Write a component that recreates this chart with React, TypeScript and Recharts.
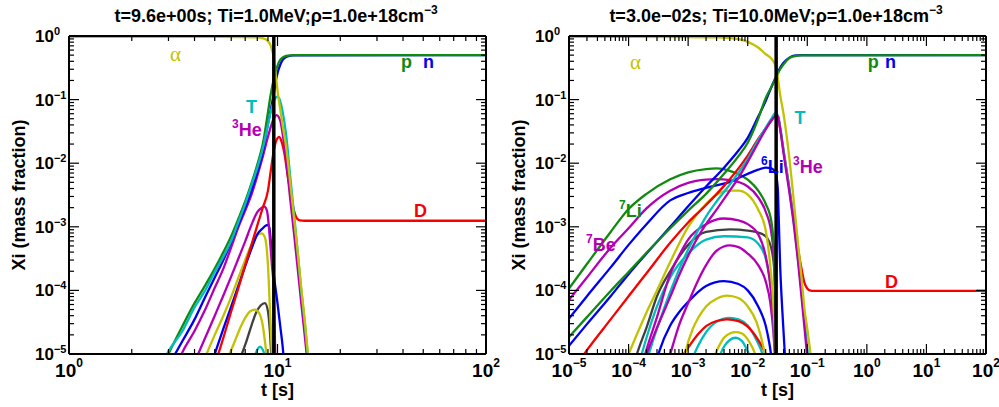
import React from "react";
import { LineChart, Line, XAxis, YAxis, ReferenceLine, ReferenceDot } from "recharts";

type Pt = [number, number];

const SANS = "'Liberation Sans', Arial, Helvetica, sans-serif";
const SERIF = "'Liberation Serif', 'DejaVu Serif', serif";

const YEL = "#c2c200";
const GRN = "#108a10";
const BLU = "#0000f0";
const RED = "#f80000";
const MAG = "#b400b4";
const CYN = "#00bcbc";
const GRY = "#404040";

// axis ticks
const MINOR_STEPS = [2, 3, 4, 5, 6, 7, 8, 9];
const Y_DECADES = [1e-5, 1e-4, 1e-3, 1e-2, 1e-1, 1];
const X_DECADES_A = [1, 10, 100];
const X_DECADES_B = [1e-5, 1e-4, 1e-3, 1e-2, 1e-1, 1, 10, 100];

// ---- left panel: t = 9.6 s, Ti = 1 MeV ----
const L_ALPHA: Pt[] = [[1, 0.97], [5, 0.97], [7, 0.965], [8, 0.95], [8.5, 0.92], [9, 0.83], [9.3, 0.69], [9.6, 0.45], [9.8, 0.25], [10, 0.14], [10.3, 0.071], [10.6, 0.038], [11, 0.018], [11.5, 5.0e-3], [12, 1.4e-3], [12.5, 4.0e-4], [13, 1.1e-4], [13.5, 3.5e-5], [14, 1.0e-5], [14.5, 3.2e-6]];
const L_P: Pt[] = [[2.9, 7.9e-6], [3, 1.0e-5], [3.5, 2.75e-5], [4, 6.3e-5], [4.5, 1.2e-4], [5, 2.2e-4], [5.5, 4.0e-4], [6, 7.2e-4], [6.5, 1.35e-3], [7, 2.5e-3], [7.5, 4.8e-3], [8, 9.5e-3], [8.5, 0.02], [9, 0.063], [9.3, 0.126], [9.6, 0.21], [9.8, 0.275], [10, 0.34], [10.3, 0.42], [10.6, 0.46], [11, 0.485], [12, 0.499], [100, 0.5]];
const L_N: Pt[] = [[3.2, 9.5e-6], [3.5, 1.6e-5], [4, 3.5e-5], [4.5, 7.9e-5], [5, 1.6e-4], [5.5, 3.0e-4], [6, 5.8e-4], [6.5, 1.1e-3], [7, 2.0e-3], [7.5, 3.7e-3], [8, 7.2e-3], [8.5, 0.015], [9, 0.042], [9.3, 0.071], [9.6, 0.126], [9.8, 0.19], [10, 0.26], [10.3, 0.35], [10.6, 0.42], [11, 0.47], [12, 0.497], [100, 0.5]];
const L_T: Pt[] = [[2.9, 8.9e-6], [3, 1.1e-5], [3.5, 2.3e-5], [4, 5.4e-5], [4.5, 1.0e-4], [5, 1.95e-4], [5.5, 3.4e-4], [6, 6.0e-4], [6.5, 1.2e-3], [7, 2.3e-3], [7.5, 4.5e-3], [8, 8.5e-3], [8.5, 0.017], [9, 0.04], [9.3, 0.066], [9.6, 0.093], [9.8, 0.107], [10, 0.111], [10.3, 0.095], [10.6, 0.063], [11, 0.028], [11.5, 6.3e-3], [12, 1.6e-3], [12.5, 4.0e-4], [13, 1.0e-4], [13.5, 3.2e-5], [14, 8.9e-6]];
const L_HE3: Pt[] = [[3.4, 8.7e-6], [3.5, 1.07e-5], [4, 2.3e-5], [4.5, 5.0e-5], [5, 1.1e-4], [5.5, 2.2e-4], [6, 4.8e-4], [6.5, 1.0e-3], [7, 1.8e-3], [7.5, 3.2e-3], [8, 6.3e-3], [8.5, 0.0126], [9, 0.026], [9.3, 0.038], [9.6, 0.051], [9.9, 0.057], [10.3, 0.047], [10.6, 0.028], [11, 0.011], [11.5, 2.8e-3], [12, 7.9e-4], [12.5, 2.2e-4], [13, 6.3e-5], [13.5, 2.0e-5], [14, 6.3e-6]];
const L_D: Pt[] = [[5.1, 8.1e-6], [5.5, 1.8e-5], [6, 4.7e-5], [6.5, 1.1e-4], [7, 2.5e-4], [7.5, 5.2e-4], [8, 1.05e-3], [8.5, 2.0e-3], [9, 3.7e-3], [9.3, 7.9e-3], [9.6, 0.0158], [9.9, 0.0234], [10.2, 0.026], [10.5, 0.021], [10.8, 0.0141], [11.2, 6.3e-3], [11.6, 3.2e-3], [12, 1.78e-3], [12.4, 1.35e-3], [12.8, 1.26e-3], [13.5, 1.245e-3], [100, 1.245e-3]];
const L_MAG2: Pt[] = [[4.1, 8.9e-6], [4.5, 1.8e-5], [5, 4.0e-5], [5.5, 8.3e-5], [6, 1.66e-4], [6.5, 3.2e-4], [7, 5.9e-4], [7.5, 1.07e-3], [8, 1.7e-3], [8.4, 2.0e-3], [8.65, 2.07e-3], [8.9, 1.8e-3], [9.05, 1.2e-3], [9.2, 6.3e-4], [9.4, 2.5e-4], [9.6, 1.0e-4], [9.75, 1.0e-5], [9.85, 3e-6]];
const L_BLU2: Pt[] = [[5, 1.0e-5], [5.5, 2.5e-5], [6, 5.6e-5], [6.5, 1.2e-4], [7, 2.4e-4], [7.5, 4.5e-4], [8, 7.6e-4], [8.5, 9.5e-4], [8.8, 1.05e-3], [9, 1.07e-3], [9.15, 9.5e-4], [9.3, 5.6e-4], [9.6, 1.8e-4], [10, 6.3e-5], [10.3, 2.8e-5], [10.6, 1.26e-5], [10.8, 6.3e-6]];
const L_YEL2: Pt[] = [[4.5, 8.9e-6], [5, 2.0e-5], [5.5, 4.0e-5], [6, 7.9e-5], [6.5, 1.6e-4], [7, 3.0e-4], [7.5, 5.2e-4], [8, 7.4e-4], [8.4, 7.9e-4], [8.7, 6.8e-4], [9, 2.5e-4], [9.2, 5.0e-5], [9.4, 1.0e-5], [9.5, 4e-6]];
const L_YEL3: Pt[] = [[5.8, 8.9e-6], [6.2, 1.5e-5], [6.6, 2.5e-5], [7, 3.7e-5], [7.4, 4.7e-5], [7.8, 5.0e-5], [8.2, 4.3e-5], [8.5, 2.8e-5], [8.7, 1.6e-5], [8.9, 8.9e-6]];
const L_GRY: Pt[] = [[6.7, 9.5e-6], [7.1, 1.6e-5], [7.5, 2.8e-5], [7.9, 4.5e-5], [8.3, 5.8e-5], [8.7, 6.3e-5], [9, 4.7e-5], [9.2, 2.2e-5], [9.35, 8.9e-6]];
const L_CYN2: Pt[] = [[7.75, 8.9e-6], [8, 1.17e-5], [8.25, 1.3e-5], [8.5, 1.17e-5], [8.75, 8.9e-6]];

// ---- right panel: t = 3.0e-2 s, Ti = 10 MeV ----
const R_ALPHA: Pt[] = [[1e-5, 0.97], [1e-3, 0.965], [3e-3, 0.955], [5e-3, 0.93], [7e-3, 0.89], [1e-2, 0.81], [1.5e-2, 0.66], [2e-2, 0.52], [2.5e-2, 0.44], [3e-2, 0.32], [3.5e-2, 0.12], [4e-2, 0.059], [5e-2, 0.012], [6e-2, 2.3e-3], [7e-2, 5.4e-4], [8e-2, 1.6e-4], [9e-2, 5.0e-5], [0.1, 2.5e-5], [0.11, 1.26e-5], [0.12, 6.3e-6]];
const R_P: Pt[] = [[1e-5, 1.86e-5], [2e-5, 3.8e-5], [5e-5, 9.8e-5], [1e-4, 1.95e-4], [2e-4, 3.9e-4], [5e-4, 9.5e-4], [1e-3, 1.8e-3], [2e-3, 3.3e-3], [4e-3, 6.8e-3], [7e-3, 0.0129], [1e-2, 0.021], [1.5e-2, 0.05], [2e-2, 0.105], [2.5e-2, 0.158], [3e-2, 0.224], [3.5e-2, 0.3], [4e-2, 0.36], [5e-2, 0.45], [6e-2, 0.48], [8e-2, 0.497], [100, 0.5]];
const R_N: Pt[] = [[1e-5, 1.35e-5], [2e-5, 2.95e-5], [5e-5, 8.1e-5], [1e-4, 1.8e-4], [2e-4, 3.8e-4], [5e-4, 1.0e-3], [1e-3, 2.1e-3], [2e-3, 4.3e-3], [4e-3, 8.5e-3], [7e-3, 0.0158], [1e-2, 0.025], [1.5e-2, 0.054], [2e-2, 0.095], [2.5e-2, 0.158], [3e-2, 0.23], [3.5e-2, 0.316], [4e-2, 0.38], [5e-2, 0.457], [6e-2, 0.49], [8e-2, 0.499], [100, 0.5]];
const R_LI7: Pt[] = [[1e-5, 1.07e-4], [2e-5, 2.6e-4], [5e-5, 8.3e-4], [1e-4, 1.9e-3], [2e-4, 3.3e-3], [5e-4, 5.6e-3], [1e-3, 7.2e-3], [2e-3, 8.1e-3], [3e-3, 8.3e-3], [5e-3, 7.6e-3], [1e-2, 5.5e-3], [1.5e-2, 3.7e-3], [2e-2, 2.3e-3], [2.5e-2, 1.2e-3], [2.8e-2, 3.5e-4], [2.95e-2, 3.2e-5], [3.05e-2, 4e-6]];
const R_BE7: Pt[] = [[1e-5, 7.1e-5], [2e-5, 1.6e-4], [5e-5, 4.7e-4], [1e-4, 9.5e-4], [2e-4, 1.95e-3], [5e-4, 3.7e-3], [1e-3, 4.9e-3], [2e-3, 5.5e-3], [3e-3, 5.6e-3], [5e-3, 5.4e-3], [1e-2, 4.3e-3], [1.5e-2, 2.9e-3], [2e-2, 1.74e-3], [2.5e-2, 7.9e-4], [2.8e-2, 2.5e-4], [2.95e-2, 2.5e-5], [3.05e-2, 4e-6]];
const R_LI6: Pt[] = [[1e-5, 3.6e-5], [2e-5, 8.1e-5], [5e-5, 2.3e-4], [1e-4, 5.2e-4], [2e-4, 1.1e-3], [5e-4, 2.6e-3], [1e-3, 3.4e-3], [2e-3, 4.1e-3], [5e-3, 5.1e-3], [1e-2, 6.8e-3], [1.5e-2, 7.9e-3], [2e-2, 8.5e-3], [2.5e-2, 8.3e-3], [2.9e-2, 7.2e-3], [3.2e-2, 4.0e-3], [3.3e-2, 1.6e-3], [3.5e-2, 2.5e-4], [3.8e-2, 5.0e-5], [4.2e-2, 1.0e-5], [4.5e-2, 4e-6]];
const R_D: Pt[] = [[1.7e-5, 9.3e-6], [2e-5, 1.15e-5], [5e-5, 3.5e-5], [1e-4, 8.1e-5], [2e-4, 1.86e-4], [5e-4, 5.6e-4], [1e-3, 1.17e-3], [2e-3, 2.2e-3], [4e-3, 4.4e-3], [7e-3, 8.3e-3], [1e-2, 0.0132], [1.5e-2, 0.024], [2e-2, 0.035], [2.5e-2, 0.047], [3e-2, 0.0575], [3.2e-2, 0.056], [3.5e-2, 0.035], [4e-2, 0.0158], [5e-2, 4.0e-3], [6e-2, 1.26e-3], [7e-2, 4.5e-4], [8e-2, 2.2e-4], [9e-2, 1.3e-4], [0.1, 1.07e-4], [0.11, 1.0e-4], [0.13, 9.8e-5], [100, 9.8e-5]];
const R_HE3: Pt[] = [[1.8e-4, 7.9e-6], [2e-4, 1.0e-5], [3e-4, 2.6e-5], [5e-4, 7.9e-5], [7e-4, 1.7e-4], [1e-3, 3.5e-4], [1.5e-3, 7.2e-4], [2e-3, 1.1e-3], [3e-3, 1.86e-3], [5e-3, 3.7e-3], [7e-3, 5.9e-3], [1e-2, 0.0105], [1.5e-2, 0.021], [2e-2, 0.034], [2.5e-2, 0.047], [3e-2, 0.0556], [3.2e-2, 0.054], [3.5e-2, 0.035], [4e-2, 0.0141], [5e-2, 3.5e-3], [6e-2, 1.0e-3], [7e-2, 2.8e-4], [8e-2, 7.9e-5], [9e-2, 2.5e-5], [0.1, 8.9e-6]];
const R_T: Pt[] = [[2.1e-4, 8.9e-6], [2.5e-4, 1.5e-5], [3e-4, 2.5e-5], [5e-4, 9.5e-5], [7e-4, 2.1e-4], [1e-3, 4.4e-4], [1.5e-3, 9.1e-4], [2e-3, 1.45e-3], [3e-3, 2.5e-3], [5e-3, 4.6e-3], [7e-3, 7.1e-3], [1e-2, 0.0117], [1.5e-2, 0.023], [2e-2, 0.036], [2.5e-2, 0.05], [2.9e-2, 0.061], [3.2e-2, 0.056], [3.5e-2, 0.038], [4e-2, 0.0158], [5e-2, 4.0e-3], [6e-2, 1.1e-3], [7e-2, 3.2e-4], [8e-2, 9.5e-5], [9e-2, 3.2e-5], [0.1, 1.26e-5], [0.105, 7.9e-6]];
const R_YEL1: Pt[] = [[9e-5, 7.9e-6], [1e-4, 1.0e-5], [2e-4, 4.5e-5], [3e-4, 1.0e-4], [5e-4, 2.8e-4], [1e-3, 1.0e-3], [2e-3, 2.3e-3], [3e-3, 3.2e-3], [5e-3, 3.7e-3], [7e-3, 3.7e-3], [1e-2, 3.2e-3], [1.5e-2, 1.86e-3], [2e-2, 8.9e-4], [2.3e-2, 3.5e-4], [2.6e-2, 1.0e-4], [2.8e-2, 3.2e-5], [3e-2, 8.9e-6]];
const R_MAG1: Pt[] = [[1.8e-4, 8.3e-6], [2e-4, 1.17e-5], [3e-4, 3.8e-5], [5e-4, 1.8e-4], [7e-4, 3.5e-4], [1e-3, 6.3e-4], [2e-3, 1.1e-3], [4e-3, 1.35e-3], [7e-3, 1.26e-3], [1e-2, 1.1e-3], [1.5e-2, 7.6e-4], [2e-2, 3.5e-4], [2.3e-2, 1.6e-4], [2.6e-2, 5.6e-5], [2.8e-2, 2.0e-5], [2.95e-2, 7.9e-6]];
const R_GRY: Pt[] = [[1.3e-4, 8.5e-6], [1.5e-4, 1.26e-5], [2e-4, 2.6e-5], [3e-4, 8.1e-5], [5e-4, 2.0e-4], [1e-3, 5.2e-4], [2e-3, 8.3e-4], [5e-3, 9.1e-4], [1e-2, 8.7e-4], [1.5e-2, 8.1e-4], [2e-2, 7.1e-4], [2.5e-2, 4.5e-4], [2.8e-2, 2.0e-4], [2.95e-2, 5.0e-5], [3.05e-2, 6.3e-6]];
const R_CYN1: Pt[] = [[1.5e-4, 7.6e-6], [1.7e-4, 1.07e-5], [2e-4, 1.8e-5], [3e-4, 5.6e-5], [5e-4, 1.6e-4], [1e-3, 3.8e-4], [2e-3, 6.3e-4], [4e-3, 7.1e-4], [1e-2, 6.8e-4], [1.5e-2, 5.4e-4], [2e-2, 3.2e-4], [2.4e-2, 1.3e-4], [2.7e-2, 3.5e-5], [2.9e-2, 7.9e-6]];
const R_MAG2: Pt[] = [[4.7e-4, 8.3e-6], [5e-4, 1.0e-5], [7e-4, 2.8e-5], [1e-3, 6.3e-5], [1.5e-3, 1.5e-4], [2e-3, 2.5e-4], [3e-3, 4.2e-4], [5e-3, 5.1e-4], [7e-3, 4.8e-4], [1e-2, 3.8e-4], [1.5e-2, 2.5e-4], [2e-2, 1.4e-4], [2.4e-2, 6.3e-5], [2.7e-2, 2.2e-5], [2.9e-2, 7.9e-6]];
const R_BLU2: Pt[] = [[3e-4, 8.3e-6], [3.3e-4, 1.12e-5], [5e-4, 2.8e-5], [7e-4, 4.5e-5], [1e-3, 6.6e-5], [2e-3, 1.17e-4], [4e-3, 1.4e-4], [7e-3, 1.26e-4], [1e-2, 1.0e-4], [1.5e-2, 5.6e-5], [2e-2, 2.8e-5], [2.3e-2, 1.5e-5], [2.55e-2, 7.9e-6]];
const R_YEL2: Pt[] = [[8.5e-4, 8.3e-6], [9e-4, 1.07e-5], [1.2e-3, 2.5e-5], [1.5e-3, 3.8e-5], [2e-3, 5.6e-5], [3e-3, 7.4e-5], [4.5e-3, 8.3e-5], [7e-3, 7.6e-5], [1e-2, 5.6e-5], [1.4e-2, 3.2e-5], [1.8e-2, 1.4e-5], [2e-2, 8.9e-6]];
const R_RED2: Pt[] = [[7.8e-4, 8.9e-6], [1e-3, 1.26e-5], [1.5e-3, 2.1e-5], [2e-3, 2.75e-5], [3e-3, 3.3e-5], [4.5e-3, 3.5e-5], [7e-3, 3.3e-5], [1e-2, 2.7e-5], [1.5e-2, 1.66e-5], [2e-2, 1.0e-5], [2.2e-2, 7.9e-6]];
const R_CYN2: Pt[] = [[1.2e-3, 8.9e-6], [1.5e-3, 1.4e-5], [2e-3, 2.2e-5], [3e-3, 3.2e-5], [5e-3, 3.7e-5], [7e-3, 3.5e-5], [1e-2, 2.8e-5], [1.4e-2, 1.66e-5], [1.8e-2, 9.5e-6], [1.9e-2, 7.9e-6]];
const R_YEL3: Pt[] = [[2.7e-3, 8.9e-6], [3.2e-3, 1.26e-5], [4e-3, 1.8e-5], [5e-3, 2.1e-5], [6.3e-3, 2.2e-5], [8e-3, 2.1e-5], [1e-2, 1.7e-5], [1.2e-2, 1.26e-5], [1.4e-2, 8.9e-6]];
const R_CYN3: Pt[] = [[3.3e-3, 8.9e-6], [4e-3, 1.3e-5], [5e-3, 1.66e-5], [6.3e-3, 1.8e-5], [8e-3, 1.6e-5], [1e-2, 1.1e-5], [1.1e-2, 8.9e-6]];

type Series = { key: string; color: string; pts: Pt[] };
type Tag = { t: number; v: number; text: string; sup?: string; color: string; serif?: boolean };

// drawn back to front
const LEFT_SERIES: Series[] = [
  { key: "cyn2", color: CYN, pts: L_CYN2 },
  { key: "gry", color: GRY, pts: L_GRY },
  { key: "yel3", color: YEL, pts: L_YEL3 },
  { key: "yel2", color: YEL, pts: L_YEL2 },
  { key: "blu2", color: BLU, pts: L_BLU2 },
  { key: "mag2", color: MAG, pts: L_MAG2 },
  { key: "D", color: RED, pts: L_D },
  { key: "He3", color: MAG, pts: L_HE3 },
  { key: "n", color: BLU, pts: L_N },
  { key: "p", color: GRN, pts: L_P },
  { key: "T", color: CYN, pts: L_T },
  { key: "alpha", color: YEL, pts: L_ALPHA },
];

const RIGHT_SERIES: Series[] = [
  { key: "cyn3", color: CYN, pts: R_CYN3 },
  { key: "yel3", color: YEL, pts: R_YEL3 },
  { key: "cyn2", color: CYN, pts: R_CYN2 },
  { key: "red2", color: RED, pts: R_RED2 },
  { key: "yel2", color: YEL, pts: R_YEL2 },
  { key: "blu2", color: BLU, pts: R_BLU2 },
  { key: "mag2", color: MAG, pts: R_MAG2 },
  { key: "cyn1", color: CYN, pts: R_CYN1 },
  { key: "gry", color: GRY, pts: R_GRY },
  { key: "mag1", color: MAG, pts: R_MAG1 },
  { key: "yel1", color: YEL, pts: R_YEL1 },
  { key: "Be7", color: MAG, pts: R_BE7 },
  { key: "Li7", color: GRN, pts: R_LI7 },
  { key: "Li6", color: BLU, pts: R_LI6 },
  { key: "D", color: RED, pts: R_D },
  { key: "T", color: CYN, pts: R_T },
  { key: "He3", color: MAG, pts: R_HE3 },
  { key: "n", color: BLU, pts: R_N },
  { key: "p", color: GRN, pts: R_P },
  { key: "alpha", color: YEL, pts: R_ALPHA },
];

const LEFT_TAGS: Tag[] = [
  { t: 3.05, v: 0.404, text: "α", color: YEL, serif: true },
  { t: 39.1, v: 0.314, text: "p", color: GRN },
  { t: 49.9, v: 0.314, text: "n", color: BLU },
  { t: 7.06, v: 0.0615, text: "T", color: CYN },
  { t: 6.05, v: 0.0263, sup: "3", text: "He", color: MAG },
  { t: 45.1, v: 1.45e-3, text: "D", color: RED },
];

const RIGHT_TAGS: Tag[] = [
  { t: 1.06e-4, v: 0.303, text: "α", color: YEL, serif: true },
  { t: 1.04, v: 0.314, text: "p", color: GRN },
  { t: 2.02, v: 0.314, text: "n", color: BLU },
  { t: 0.061, v: 0.0406, text: "T", color: CYN },
  { t: 0.0167, v: 6.9e-3, sup: "6", text: "Li", color: BLU },
  { t: 0.0575, v: 6.9e-3, sup: "3", text: "He", color: MAG },
  { t: 6.9e-5, v: 1.45e-3, sup: "7", text: "Li", color: GRN },
  { t: 1.93e-5, v: 4.09e-4, sup: "7", text: "Be", color: MAG },
  { t: 2.02, v: 1.09e-4, text: "D", color: RED },
];

const withMinors = (decades: number[]) =>
  decades.concat(decades.slice(0, -1).flatMap((d) => MINOR_STEPS.map((m) => m * d)));

const Y_TICKS = withMinors(Y_DECADES);
const AXIS = { stroke: "#000", strokeWidth: 2 };
const MAJ = 10;
const MIN = 5;

const isDecade = (v: number) => {
  const l = Math.log10(v);
  return Math.abs(l - Math.round(l)) < 1e-6;
};
const expText = (v: number) => {
  const e = Math.round(Math.log10(v));
  return e < 0 ? "\u2212" + Math.abs(e) : String(e);
};

function BottomTick(p: any) {
  const v = p.payload.value;
  const major = isDecade(v);
  return (
    <g>
      <line x1={p.x} x2={p.x} y1={p.y} y2={p.y - (major ? MAJ : MIN)} stroke="#000" strokeWidth={1.2} />
      {major && (
        <text x={p.x} y={p.y + 23} textAnchor="middle" fontFamily={SANS} fontWeight="bold" fontSize={19} fill="#000">
          10<tspan fontSize={12} dy={-10}>{expText(v)}</tspan>
        </text>
      )}
    </g>
  );
}

function TopTick(p: any) {
  const major = isDecade(p.payload.value);
  return <line x1={p.x} x2={p.x} y1={p.y} y2={p.y + (major ? MAJ : MIN)} stroke="#000" strokeWidth={1.2} />;
}

function LeftTick(p: any) {
  const v = p.payload.value;
  const major = isDecade(v);
  return (
    <g>
      <line x1={p.x} x2={p.x + (major ? MAJ : MIN)} y1={p.y} y2={p.y} stroke="#000" strokeWidth={1.2} />
      {major && (
        <text x={p.x - 34} y={p.y + 6} textAnchor="start" fontFamily={SANS} fontWeight="bold" fontSize={17} fill="#000">
          10<tspan fontSize={11} dy={-7}>{expText(v)}</tspan>
        </text>
      )}
    </g>
  );
}

function RightTick(p: any) {
  const major = isDecade(p.payload.value);
  return <line x1={p.x} x2={p.x - (major ? MAJ : MIN)} y1={p.y} y2={p.y} stroke="#000" strokeWidth={1.2} />;
}

function TagText({ viewBox, tag }: { viewBox: any; tag: Tag }) {
  const { x, y } = viewBox;
  if (tag.serif) {
    return (
      <text x={x} y={y} fill={tag.color} fontFamily={SERIF} fontSize={21}>
        {tag.text}
      </text>
    );
  }
  return (
    <text x={x} y={y} fill={tag.color} fontFamily={SANS} fontWeight="bold" fontSize={18}>
      {tag.sup && (
        <tspan fontSize={12} dy={-8}>
          {tag.sup}
        </tspan>
      )}
      <tspan dy={tag.sup ? 8 : 0}>{tag.text}</tspan>
    </text>
  );
}

type PanelProps = {
  width: number;
  marginRight: number;
  xDecades: number[];
  tNow: number;
  series: Series[];
  tags: Tag[];
};

function Panel({ width, marginRight, xDecades, tNow, series, tags }: PanelProps) {
  const xDomain = [xDecades[0], xDecades[xDecades.length - 1]];
  const xTicks = withMinors(xDecades);
  return (
    <LineChart width={width} height={407} margin={{ top: 35, right: marginRight, bottom: 52, left: 68 }}>
      <XAxis dataKey="t" type="number" scale="log" domain={xDomain} allowDataOverflow ticks={xTicks} interval={0}
        height={1} tickSize={0} tickMargin={0} tickLine={false} axisLine={AXIS} tick={BottomTick} />
      <XAxis xAxisId="top" orientation="top" dataKey="t" type="number" scale="log" domain={xDomain} allowDataOverflow
        ticks={xTicks} interval={0} height={1} tickSize={0} tickMargin={0} tickLine={false} axisLine={AXIS} tick={TopTick} />
      <YAxis type="number" scale="log" domain={[1e-5, 1]} allowDataOverflow ticks={Y_TICKS} interval={0}
        width={1} tickSize={0} tickMargin={0} tickLine={false} axisLine={AXIS} tick={LeftTick} />
      <YAxis yAxisId="right" orientation="right" type="number" scale="log" domain={[1e-5, 1]} allowDataOverflow
        ticks={Y_TICKS} interval={0} width={1} tickSize={0} tickMargin={0} tickLine={false} axisLine={AXIS} tick={RightTick} />
      {series.map((s) => (
        <Line key={s.key} data={s.pts.map(([t, x]) => ({ t, x }))} dataKey="x" type="monotone" stroke={s.color}
          strokeWidth={2.3} dot={false} activeDot={false} isAnimationActive={false} />
      ))}
      <ReferenceLine x={tNow} stroke="#000" strokeWidth={3.5} />
      {tags.map((tag, i) => (
        <ReferenceDot key={i} x={tag.t} y={tag.v} r={0} fill="none" stroke="none"
          label={(props: any) => <TagText viewBox={props.viewBox} tag={tag} />} />
      ))}
    </LineChart>
  );
}

const titleProps = { fontFamily: SANS, fontWeight: "bold" as const, fontSize: 18, fill: "#000", textAnchor: "middle" as const };

export default function App() {
  return (
    <div style={{ position: "absolute", left: 0, top: 0, width: 999, height: 407, background: "#fff", overflow: "hidden" }}>
      <div style={{ position: "absolute", left: 0, top: 0 }}>
        <Panel width={500} marginRight={13} xDecades={X_DECADES_A} tNow={9.6} series={LEFT_SERIES} tags={LEFT_TAGS} />
      </div>
      <div style={{ position: "absolute", left: 500, top: 0 }}>
        <Panel width={499} marginRight={12} xDecades={X_DECADES_B} tNow={3.0e-2} series={RIGHT_SERIES} tags={RIGHT_TAGS} />
      </div>
      <svg width={999} height={407} style={{ position: "absolute", left: 0, top: 0, pointerEvents: "none" }}>
        <text x={276} y={22} {...titleProps}>
          t=9.6e+00s; Ti=1.0MeV;ρ=1.0e+18cm<tspan fontSize={12} dy={-8}>−3</tspan>
        </text>
        <text x={776} y={22} {...titleProps}>
          t=3.0e−02s; Ti=10.0MeV;ρ=1.0e+18cm<tspan fontSize={12} dy={-8}>−3</tspan>
        </text>
        <text x={277.5} y={396} {...titleProps}>t [s]</text>
        <text x={777.5} y={396} {...titleProps}>t [s]</text>
        <text x={25} y={195} {...titleProps} transform="rotate(-90 25 195)">Xi (mass fraction)</text>
        <text x={525} y={195} {...titleProps} transform="rotate(-90 525 195)">Xi (mass fraction)</text>
      </svg>
    </div>
  );
}
